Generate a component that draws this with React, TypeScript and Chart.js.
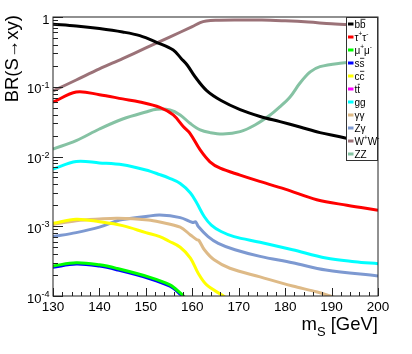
import React, { useEffect, useRef } from "react";
import { Chart, registerables } from "chart.js";
Chart.register(...registerables);

// ---------- data ----------
const bbMass = [130, 135, 140, 145, 148.7, 152.4, 155.9, 157.6, 158.9, 160.6, 163.1, 166.2, 170.3, 174.6, 178.9, 183.2, 187.5, 191.8, 196, 200];
const bbBR = [0.79, 0.745, 0.684, 0.61, 0.54, 0.43, 0.336, 0.254, 0.205, 0.139, 0.088, 0.0635, 0.047, 0.0375, 0.0316, 0.0265, 0.022, 0.0192, 0.0165, 0.0145];

const tautauMass = [130, 135, 140, 145, 148.7, 153, 155.9, 158.1, 159.5, 161.7, 163.8, 166, 170.3, 174, 180, 186.8, 193.3, 200];
const tautauBR = [0.06, 0.084, 0.077, 0.067, 0.0605, 0.0507, 0.0394, 0.0267, 0.0215, 0.0124, 0.0084, 0.0068, 0.0054, 0.0045, 0.0034, 0.0024, 0.002, 0.0017];

const mumuMass = [130, 135, 140, 143.7, 150.9, 155.2, 157.4, 158.6];
const mumuBR = [0.00027, 0.0003, 0.00028, 0.000249, 0.000185, 0.000144, 0.000111, 0.000092];

const ssMass = [130, 135, 140, 143.7, 150.9, 155.2, 157.4, 158.5];
const ssBR = [0.000258, 0.000287, 0.000268, 0.000238, 0.000177, 0.000138, 0.000106, 0.000088];

const ccMass = [130, 135, 140, 145, 150, 153, 155, 157.4, 159.6, 161.3, 163.1, 166.7, 167.5];
const ccBR = [0.0011, 0.00126, 0.00116, 0.00102, 0.00081, 0.00071, 0.00061, 0.0005, 0.00035, 0.00021, 0.000144, 0.0001, 0.00009];

const ttMass: number[] = [];
const ttBR: number[] = [];

const ggMass = [130, 135, 140, 145, 150, 153, 155, 157.4, 159.6, 161, 162.6, 164.1, 166.2, 169, 174.6, 181.6, 188.8, 195, 200];
const ggBR = [0.0066, 0.0085, 0.0081, 0.0076, 0.0064, 0.0055, 0.0049, 0.0041, 0.003, 0.00213, 0.00137, 0.00104, 0.00084, 0.00071, 0.00059, 0.00046, 0.00035, 0.00031, 0.00029];

const gamgamMass = [130, 135, 140, 144, 150.5, 153, 157.4, 159.6, 161, 161.4, 162.6, 164.7, 168.1, 174.6, 181.6, 186.9, 190.1, 191];
const gamgamBR = [0.00106, 0.0012, 0.00127, 0.0013, 0.00123, 0.00115, 0.00097, 0.00075, 0.00064, 0.00063, 0.00046, 0.00033, 0.00025, 0.000188, 0.000139, 0.000114, 0.0000975, 0.000093];

const ZgamMass = [130, 135, 140, 143.8, 145, 150, 153, 157.4, 160.1, 160.7, 161.3, 163.4, 165.6, 169.2, 174.6, 181.6, 188.8, 200];
const ZgamBR = [0.00071, 0.00081, 0.00097, 0.0012, 0.00125, 0.00138, 0.00145, 0.00133, 0.00113, 0.00116, 0.00099, 0.00071, 0.00057, 0.00046, 0.00037, 0.0003, 0.000236, 0.000194];

const WWMass = [130, 135, 140, 145, 150, 155, 160, 161.7, 163, 165, 170, 175, 180, 185, 190, 195, 200];
const WWBR = [0.087, 0.125, 0.18, 0.253, 0.36, 0.51, 0.73, 0.83, 0.875, 0.897, 0.906, 0.906, 0.88, 0.845, 0.8, 0.77, 0.745];

const ZZMass = [130, 135, 140, 145, 150, 152.4, 155.2, 157.4, 159.5, 161.7, 163.8, 166.6, 170.3, 173.5, 176.7, 178.9, 181.1, 183.2, 185.4, 187.5, 191.8, 200];
const ZZBR = [0.0128, 0.0169, 0.0248, 0.0345, 0.0435, 0.0475, 0.0464, 0.0394, 0.03, 0.024, 0.022, 0.021, 0.0227, 0.0283, 0.039, 0.0518, 0.072, 0.113, 0.163, 0.194, 0.217, 0.242];

const channelLabels = ["b#bar{b}", "τ^{+}τ^{-}", "μ^{+}μ^{-}", "s#bar{s}", "c#bar{c}", "t#bar{t}", "gg", "γγ", "Zγ", "W^{+}W^{-}", "ZZ"];
const channelColors = ["#000000", "#ff0000", "#00ff00", "#0000ff", "#ffff00", "#ff00ff", "#00ffff", "#deba87", "#7d99d1", "#9b7278", "#85c2a3"];
const channelMasses = [bbMass, tautauMass, mumuMass, ssMass, ccMass, ttMass, ggMass, gamgamMass, ZgamMass, WWMass, ZZMass];
const channelBRs = [bbBR, tautauBR, mumuBR, ssBR, ccBR, ttBR, ggBR, gamgamBR, ZgamBR, WWBR, ZZBR];

const xMin = 130;
const xMax = 200;
const xMinorStep = 2;
const xTickLabels = [130, 140, 150, 160, 170, 180, 190, 200];
const yTickValues = [1, 0.1, 0.01, 0.001, 0.0001];
const yTickLabels = ["1", "10^{-1}", "10^{-2}", "10^{-3}", "10^{-4}"];
const xTitle = "m_{S} [GeV]";
const yTitle = "BR(S→xy)";

const FONT = "'Liberation Sans', Arial, Helvetica, sans-serif";

// ---------- tiny rich-text helper (^{} superscript, _{} subscript, #bar{} overline) ----------
type Seg = { t: string; mode: "n" | "sup" | "sub" | "bar" };
function parseRich(s: string): Seg[] {
  const out: Seg[] = [];
  let buf = "";
  let i = 0;
  const flush = () => {
    if (buf) out.push({ t: buf, mode: "n" });
    buf = "";
  };
  while (i < s.length) {
    let mode: Seg["mode"] | null = null;
    let skip = 0;
    if (s.startsWith("^{", i)) { mode = "sup"; skip = 2; }
    else if (s.startsWith("_{", i)) { mode = "sub"; skip = 2; }
    else if (s.startsWith("#bar{", i)) { mode = "bar"; skip = 5; }
    if (mode) {
      flush();
      const end = s.indexOf("}", i + skip);
      out.push({ t: s.slice(i + skip, end), mode });
      i = end + 1;
    } else {
      buf += s[i];
      i++;
    }
  }
  flush();
  return out;
}

function drawRich(ctx: CanvasRenderingContext2D, s: string, x: number, y: number, size: number, align: "left" | "right" | "center", smallScale = 0.68) {
  const segs = parseRich(s);
  const fontFor = (m: Seg["mode"]) => `${m === "sup" || m === "sub" ? size * smallScale : size}px ${FONT}`;
  const widths = segs.map((sg) => {
    ctx.font = fontFor(sg.mode);
    return ctx.measureText(sg.t).width;
  });
  const total = widths.reduce((a, b) => a + b, 0);
  let cx = align === "left" ? x : align === "right" ? x - total : x - total / 2;
  ctx.textAlign = "left";
  ctx.textBaseline = "alphabetic";
  segs.forEach((sg, k) => {
    ctx.font = fontFor(sg.mode);
    const dy = sg.mode === "sup" ? -size * 0.42 : sg.mode === "sub" ? size * 0.3 : 0;
    ctx.fillText(sg.t, cx, y + dy);
    if (sg.mode === "bar") {
      ctx.save();
      ctx.strokeStyle = ctx.fillStyle as string;
      ctx.lineWidth = Math.max(0.8, size * 0.08);
      ctx.beginPath();
      ctx.moveTo(cx + size * 0.05, y - size * 0.82);
      ctx.lineTo(cx + widths[k] - size * 0.02, y - size * 0.82);
      ctx.stroke();
      ctx.restore();
    }
    cx += widths[k];
  });
  return total;
}

const rootStylePlugin = {
  id: "rootStyle",
  afterDraw(chart: any) {
    const { ctx, chartArea: a, scales } = chart;
    const xs = scales.x;
    const ys = scales.y;
    ctx.save();
    const axisColor = "#222";
    ctx.strokeStyle = axisColor;
    ctx.fillStyle = "#000";
    ctx.lineWidth = 1;

    // frame
    ctx.strokeRect(a.left, a.top, a.right - a.left, a.bottom - a.top);

    // x ticks (inside, from bottom)
    ctx.beginPath();
    for (let v = xMin; v <= xMax + 1e-9; v += xMinorStep) {
      const px = Math.round(xs.getPixelForValue(v)) + 0.5;
      const major = xTickLabels.indexOf(v) >= 0;
      const len = major ? 8 : 4;
      ctx.moveTo(px, a.bottom);
      ctx.lineTo(px, a.bottom - len);
    }
    ctx.stroke();

    // y ticks (inside, from left)
    ctx.beginPath();
    yTickValues.forEach((d, i) => {
      const py = Math.round(ys.getPixelForValue(d)) + 0.5;
      ctx.moveTo(a.left, py);
      ctx.lineTo(a.left + 10, py);
      if (i < yTickValues.length - 1) {
        const lower = yTickValues[i + 1];
        for (let k = 2; k <= 9; k++) {
          const pm = Math.round(ys.getPixelForValue(lower * k)) + 0.5;
          ctx.moveTo(a.left, pm);
          ctx.lineTo(a.left + 5, pm);
        }
      }
    });
    ctx.stroke();

    // x tick labels
    ctx.fillStyle = "#000";
    xTickLabels.forEach((v) => {
      const px = xs.getPixelForValue(v);
      drawRich(ctx, String(v), px, a.bottom + 15, 13.5, "center");
    });

    // y tick labels
    yTickValues.forEach((v, i) => {
      const py = ys.getPixelForValue(v);
      drawRich(ctx, yTickLabels[i], a.left - 3.5, py + 6.5, 13, "right", 0.7);
    });

    // x title
    drawRich(ctx, xTitle, a.right, a.bottom + 34, 18.5, "right", 0.7);

    // y title (rotated)
    ctx.save();
    ctx.translate(18, a.top - 2);
    ctx.rotate(-Math.PI / 2);
    drawRich(ctx, yTitle, 0, 0, 18.5, "right");
    ctx.restore();

    // legend
    const lx0 = 346.5;
    const lx1 = a.right - 0.5;
    const ly0 = a.top + 0.5;
    const ly1 = 160.5;
    ctx.fillStyle = "#fff";
    ctx.fillRect(lx0, ly0, lx1 - lx0, ly1 - ly0);
    ctx.strokeStyle = "#333";
    ctx.lineWidth = 1;
    ctx.strokeRect(lx0, ly0, lx1 - lx0, ly1 - ly0);
    const step = (ly1 - ly0 - 13) / (channelLabels.length - 1);
    chart.data.datasets.forEach((ds: any, i: number) => {
      const cy = ly0 + 6.5 + i * step;
      ctx.strokeStyle = ds.borderColor;
      ctx.lineWidth = 3;
      ctx.beginPath();
      ctx.moveTo(lx0 + 1.5, cy);
      ctx.lineTo(lx0 + 7, cy);
      ctx.stroke();
      ctx.fillStyle = "#000";
      drawRich(ctx, ds.label, lx0 + 8, cy + 3.5, 10, "left", 0.65);
    });
    ctx.restore();
  },
};

export default function App() {
  const ref = useRef<HTMLCanvasElement>(null);
  useEffect(() => {
    const canvas = ref.current;
    if (!canvas) return;
    const datasets = channelLabels.map((label, i) => ({
      label,
      data: channelMasses[i].map((m, k) => ({ x: m, y: channelBRs[i][k] })),
      borderColor: channelColors[i],
      backgroundColor: channelColors[i],
      borderWidth: 3,
      pointRadius: 0,
      fill: false,
      tension: 0.35,
      clip: 0,
    }));
    const chart = new Chart(canvas, {
      type: "line",
      data: { datasets },
      options: {
        animation: false,
        responsive: false,
        devicePixelRatio: 1,
        layout: { padding: { left: 53, top: 17, right: 34, bottom: 58 } },
        plugins: { legend: { display: false }, tooltip: { enabled: false } },
        scales: {
          x: { type: "linear", min: xMin, max: xMax, display: false },
          y: { type: "logarithmic", min: 1e-4, max: 1, display: false },
        },
      },
      plugins: [rootStylePlugin],
    });
    return () => chart.destroy();
  }, []);
  return (
    <div style={{ position: "absolute", left: 0, top: 0, width: 412, height: 354, background: "#fff" }}>
      <canvas ref={ref} width={412} height={354} style={{ display: "block", width: 412, height: 354 }} />
    </div>
  );
}
